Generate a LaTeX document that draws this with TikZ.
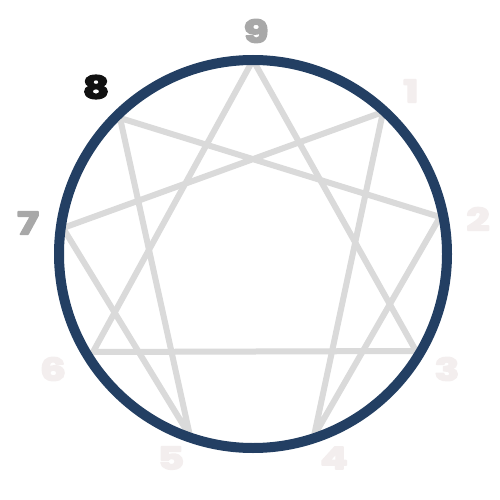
\documentclass[tikz,border=0pt]{standalone}
\usepackage{fontspec}
\setmainfont{Poppins}
\definecolor{ringblue}{HTML}{233F63}
\definecolor{linegray}{HTML}{DADADA}
\definecolor{lblgray}{HTML}{A8A8A8}
\definecolor{lblpale}{HTML}{F3EEEE}
\definecolor{lbldark}{HTML}{111111}
\newcommand{\heavy}[1]{\special{pdf:literal 2 Tr 1.6 w 1 j}#1\special{pdf:literal 0 Tr}}
\tikzset{
  enline/.style={draw=linegray, line width=6pt, line join=round, line cap=round},
  ring/.style={draw=ringblue, line width=10pt},
  numlbl/.style={font=\bfseries\fontsize{31}{31}\selectfont, xscale=1.3, inner sep=0pt, anchor=center}
}
\begin{document}
\begin{tikzpicture}[x=1pt,y=-1pt]
\useasboundingbox (0,0) rectangle (500,500);
\fill[white] (0,0) rectangle (500,500);
\coordinate (p9) at (253,60);
\coordinate (p1) at (383,112);
\coordinate (p2) at (440,217);
\coordinate (p3) at (416,351);
\coordinate (p4) at (314,436);
\coordinate (p5) at (190,436);
\coordinate (p6) at (93,352);
\coordinate (p7) at (63,228);
\coordinate (p8) at (120,118);
\coordinate (c) at (253,254);
% triangle 9-3-6
\path[enline] (p9) -- (p3) -- (p6) -- cycle;
% hexad 1-4-2-8-5-7-1
\path[enline] (p1) -- (p4) -- (p2) -- (p8) -- (p5) -- (p7) -- cycle;
% ring
\node[ring, circle, minimum size=388pt, inner sep=0pt] (ringc) at (c) {};
% labels
\node[numlbl, text=lblgray] (l9) at (256,31) {\heavy{9}};
\node[numlbl, text=lbldark] (l8) at (96,87) {\heavy{8}};
\node[numlbl, text=lblpale] (l1) at (411,91) {\heavy{1}};
\node[numlbl, text=lblpale] (l2) at (478,219) {\heavy{2}};
\node[numlbl, text=lblgray] (l7) at (28,223) {\heavy{7}};
\node[numlbl, text=lblpale] (l6) at (53,369) {\heavy{6}};
\node[numlbl, text=lblpale] (l3) at (447,369) {\heavy{3}};
\node[numlbl, text=lblpale] (l5) at (171,458) {\heavy{5}};
\node[numlbl, text=lblpale] (l4) at (334,458) {\heavy{4}};
\end{tikzpicture}
\end{document}
